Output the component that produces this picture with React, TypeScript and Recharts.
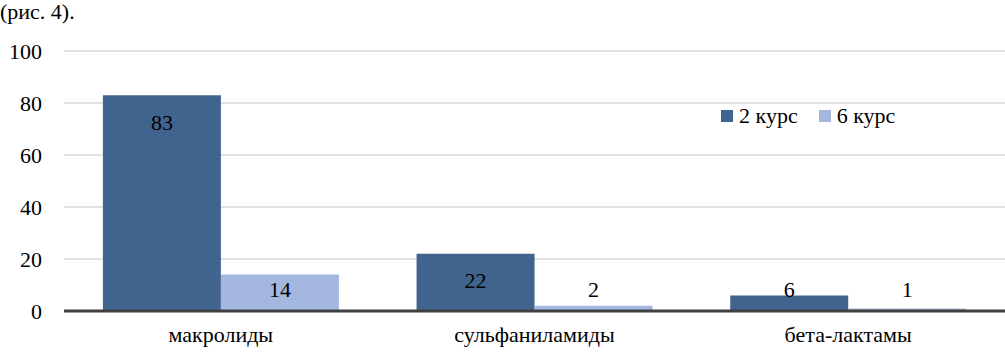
import { BarChart, Bar, XAxis, YAxis, CartesianGrid, LabelList } from "recharts";

const categories = ["макролиды", "сульфаниламиды", "бета-лактамы"];
const course2 = [83, 22, 6];
const course6 = [14, 2, 1];
const yTicks = [0, 20, 40, 60, 80, 100];
const seriesNames = ["2 курс", "6 курс"];
const seriesColors = ["#41648E", "#A4B8DF"];

const data = categories.map((name, i) => ({ name, c2: course2[i], c6: course6[i] }));

const FONT = '"Liberation Serif", "DejaVu Serif", serif';

// value label sits inside the top of the bar, or just above the axis for short bars
const ValueLabel = (props: any) => {
  const { x, y, width, value } = props;
  const ty = Math.min(y + 27, 289);
  return (
    <text
      x={x + width / 2}
      y={ty}
      textAnchor="middle"
      dominantBaseline="central"
      fontFamily={FONT}
      fontSize={22}
      fill="#000"
    >
      {value}
    </text>
  );
};

export default function App() {
  return (
    <div style={{ position: "absolute", left: 0, top: 0, width: 1005, height: 355, background: "#fff", fontFamily: FONT }}>
      <div style={{ position: "absolute", left: 0, top: 0, fontSize: 22, lineHeight: "24px" }}>
        (рис. 4).
      </div>
      <BarChart
        width={1005}
        height={355}
        data={data}
        margin={{ top: 51, right: 0, left: 0, bottom: 0 }}
        barCategoryGap="12.4%"
        barGap={0}
      >
        <CartesianGrid vertical={false} stroke="#d9d9d9" strokeWidth={1.5} />
        <XAxis
          dataKey="name"
          height={44}
          axisLine={{ stroke: "#404040", strokeWidth: 3 }}
          tickLine={false}
          tickSize={0}
          tickMargin={15}
          tick={{ fontSize: 22, fill: "#000", fontFamily: FONT }}
        />
        <YAxis
          width={64}
          domain={[0, 100]}
          ticks={yTicks}
          axisLine={false}
          tickLine={false}
          tickSize={0}
          tickMargin={22}
          tick={{ fontSize: 22, fill: "#000", fontFamily: FONT }}
        />
        <Bar dataKey="c2" name={seriesNames[0]} fill={seriesColors[0]} isAnimationActive={false}>
          <LabelList dataKey="c2" content={<ValueLabel />} />
        </Bar>
        <Bar dataKey="c6" name={seriesNames[1]} fill={seriesColors[1]} isAnimationActive={false}>
          <LabelList dataKey="c6" content={<ValueLabel />} />
        </Bar>
      </BarChart>
      <div style={{ position: "absolute", top: 103, left: 721, display: "flex", alignItems: "center", fontSize: 22, lineHeight: "26px" }}>
        {seriesNames.map((n, i) => (
          <div key={n} style={{ display: "flex", alignItems: "center", marginRight: 21 }}>
            <span style={{ width: 12, height: 12, background: seriesColors[i], display: "inline-block", marginRight: 6 }} />
            <span>{n}</span>
          </div>
        ))}
      </div>
    </div>
  );
}
